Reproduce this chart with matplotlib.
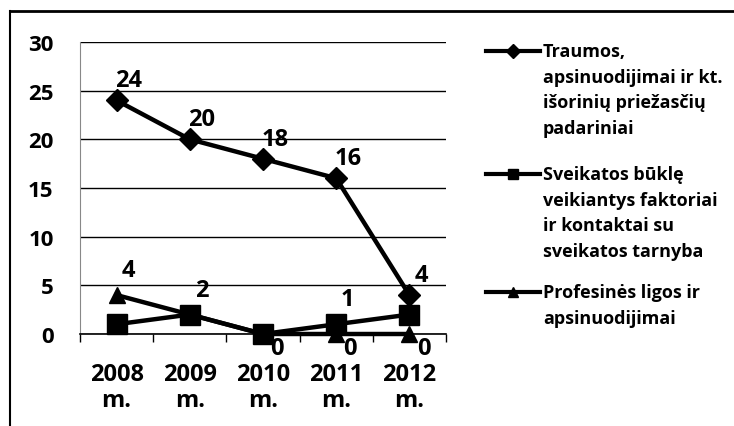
import matplotlib
matplotlib.use('Agg')
from matplotlib import pyplot as plt
from matplotlib.lines import Line2D
import numpy as np

# duomenys
years = ['2008\nm.', '2009\nm.', '2010\nm.', '2011\nm.', '2012\nm.']
traumos = [24, 20, 18, 16, 4]
sveikatos = [1, 2, 0, 1, 2]
profesines = [4, 2, 0, 0, 0]

legend_labels = [
    'Traumos,\napsinuodijimai ir kt.\nišorinių priežasčių\npadariniai',
    'Sveikatos būklę\nveikiantys faktoriai\nir kontaktai su\nsveikatos tarnyba',
    'Profesinės ligos ir\napsinuodijimai',
]
markers = ['D', 's', '^']

plt.rcParams['font.family'] = ['Open Sans', 'DejaVu Sans']
plt.rcParams['font.weight'] = 'bold'

W, H = 734, 427
fig = plt.figure(figsize=(W / 100, H / 100), dpi=100)
ax = fig.add_axes([80 / W, 1 - 335 / H, (446 - 80) / W, (335 - 43) / H])

x = np.arange(len(years))
ax.plot(x, traumos, color='black', lw=3.2, marker='D', ms=11, clip_on=False, zorder=3)
ax.plot(x, profesines, color='black', lw=3.2, marker='^', ms=12, clip_on=False, zorder=3)
ax.plot(x, sveikatos, color='black', lw=3.2, marker='s', ms=14, clip_on=False, zorder=4)

# reikšmių etiketės
lab_kw = dict(textcoords='offset pixels', ha='center', va='center',
              fontsize=17, fontweight='bold')
for i, v in enumerate(traumos):
    ax.annotate(str(v), (x[i], v), xytext=(12, 20), **lab_kw)
for i, v in enumerate(profesines):
    off = (12, 25) if v > 0 else (14, -14)
    ax.annotate(str(v), (x[i], v), xytext=off, zorder=5, **lab_kw)
ax.annotate(str(sveikatos[3]), (x[3], sveikatos[3]), xytext=(11, 25), **lab_kw)

ax.set_xlim(-0.5, len(years) - 0.5)
ax.set_ylim(0, 30)
ax.set_yticks(range(0, 31, 5))
ax.yaxis.grid(True, color='black', lw=1)
ax.set_axisbelow(True)
ax.tick_params(axis='y', length=0, pad=19, labelsize=16)

ax.set_xticks(np.arange(len(years) + 1) - 0.5)
ax.set_xticklabels([])
ax.tick_params(axis='x', which='major', length=6, width=1, direction='out')
ax.set_xticks(x, minor=True)
ax.set_xticklabels(years, minor=True, fontsize=17, linespacing=1.1)
ax.tick_params(axis='x', which='minor', length=0, pad=20)

for s in ['top', 'right']:
    ax.spines[s].set_visible(False)
ax.spines['left'].set_color('#888888')
ax.spines['left'].set_linestyle((0, (2, 1)))
ax.spines['bottom'].set_linewidth(1.2)

# legenda
entry_y = [52, 175, 293]
for mk, lab, yy in zip(markers, legend_labels, entry_y):
    fy = 1 - yy / H
    fig.add_artist(Line2D([486 / W, 540 / W], [fy, fy], color='black', lw=3,
                          transform=fig.transFigure))
    fig.add_artist(Line2D([513 / W], [fy], color='black', marker=mk, ms=7,
                          transform=fig.transFigure))
    fig.text(543 / W, 1 - (yy - 9) / H, lab, ha='left', va='top',
             multialignment='left', fontsize=13, fontweight='bold',
             linespacing=1.55, transform=fig.transFigure)

# rėmelis
fig.add_artist(Line2D([10 / W, 10 / W], [0, 1 - 12 / H], color='black', lw=1.5,
                      transform=fig.transFigure))
fig.add_artist(Line2D([10 / W, 1], [1 - 12 / H, 1 - 12 / H], color='black', lw=2,
                      transform=fig.transFigure))

fig.savefig('out.png', dpi=100)
